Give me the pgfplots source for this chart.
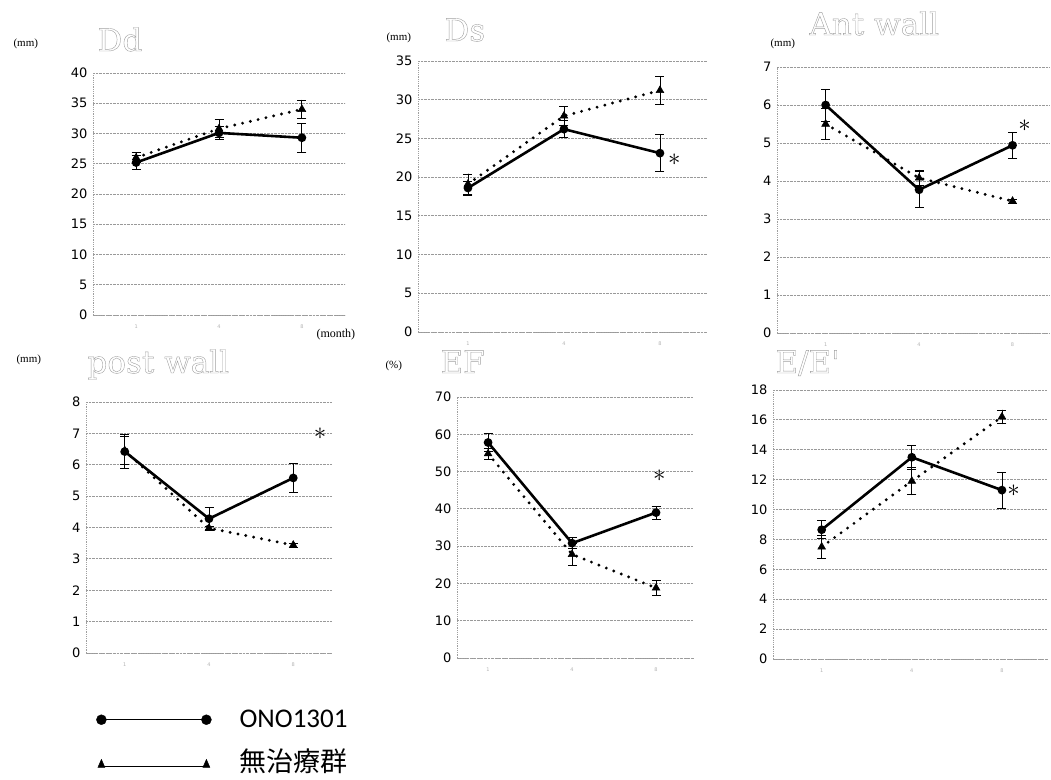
\documentclass[border=0pt]{standalone}
\usepackage{fontspec}
\setmainfont{Liberation Serif}
\newfontfamily\tickfont{DejaVu Sans}
\newfontfamily\titlefont{DejaVu Serif}
\newfontfamily\legfont{Carlito}
\newfontfamily\cjk{Noto Sans CJK JP}
\usepackage{pgfplots}
\pgfplotsset{compat=1.18}
\newcommand\outl[1]{\special{pdf:literal direct 1 Tr 0.4 w}#1\special{pdf:literal direct 0 Tr 0.3985 w}}
\pgfplotsset{
  panel/.style={scale only axis, anchor=south west, ymin=0,
    xtick={0,1,2}, xticklabels={1,4,8},
    axis x line*=bottom, axis y line*=left,
    axis line style={densely dotted, gray!75, line width=0.8pt, -},
    ymajorgrids, major grid style={densely dotted, gray!80, line width=0.8pt},
    major tick length=0pt,
    /pgf/number format/assume math mode=true,
    yticklabel style={font=\tickfont\fontsize{13}{13}\selectfont, xshift=-2pt},
    xticklabel style={font=\tickfont\fontsize{5}{5}\selectfont, text=gray!60, yshift=-6pt},
    clip=false},
  eb/.style={error bars/.cd, y dir=both, y explicit,
    error bar style={solid, line width=0.8pt, black},
    error mark options={rotate=90, mark size=4.5pt, line width=0.8pt, solid, black}},
  ono/.style={black, solid, line width=2.6pt, mark=*, mark size=3pt, mark options={solid}, eb},
  untr/.style={black, line width=3.2pt, dash pattern=on 0pt off 8pt, line cap=round,
    mark=triangle*, mark size=4.5pt, mark options={solid, line width=0.5pt}, eb},
}
\tikzset{
  ttl/.style={anchor=base west, font=\titlefont\fontsize{31}{31}\selectfont, text=gray!75},
  unitlbl/.style={anchor=base west, font=\fontsize{11}{11}\selectfont},
  star/.style={font=\fontsize{28}{28}\selectfont}
}
\begin{document}
\begin{tikzpicture}
\useasboundingbox (0pt,0pt) rectangle (1051pt,-779pt);
% ---------- Dd
\begin{axis}[panel, at={(93pt,-315pt)}, width=252pt, height=242pt,
  xmin=-0.52, xmax=2.52, ymax=40, ytick={0,5,...,40}]
\addplot[untr] coordinates {(0,26.0) +- (0,0.8) (1,30.8) +- (0,1.5) (2,34.0) +- (0,1.5)};
\addplot[ono] coordinates {(0,25.2) +- (0,1.2) (1,30.1) +- (0,1.0) (2,29.3) +- (0,2.4)};
\end{axis}
\node[unitlbl] at (10pt,-46pt) {(mm)};
\node[ttl] at (94pt,-51pt) {\outl{Dd}};
\node[unitlbl, font=\fontsize{12}{12}\selectfont] at (313pt,-337pt) {(month)};
% ---------- Ds
\begin{axis}[panel, at={(418pt,-332pt)}, width=289pt, height=271pt,
  xmin=-0.52, xmax=2.49, ymax=35, ytick={0,5,...,35}]
\addplot[untr] coordinates {(0,19.1) +- (0,1.3) (1,27.9) +- (0,1.2) (2,31.2) +- (0,1.8)};
\addplot[ono] coordinates {(0,18.6) +- (0,0.9) (1,26.2) +- (0,1.1) (2,23.1) +- (0,2.4)};
\node[star] at (axis cs:2.15,22.3) {$\ast$};
\end{axis}
\node[unitlbl] at (383pt,-40pt) {(mm)};
\node[ttl] at (441pt,-41pt) {\outl{Ds}};
% ---------- Ant wall
\begin{axis}[panel, at={(777pt,-333pt)}, width=272pt, height=266pt,
  xmin=-0.52, xmax=2.39, ymax=7, ytick={0,1,...,7}]
\addplot[untr] coordinates {(0,5.5) +- (0,0.4) (1,4.08) +- (0,0.2) (2,3.47) +- (0,0.05)};
\addplot[ono] coordinates {(0,6.0) +- (0,0.42) (1,3.77) +- (0,0.47) (2,4.94) +- (0,0.34)};
\node[star] at (axis cs:2.13,5.45) {$\ast$};
\end{axis}
\node[unitlbl] at (767pt,-46pt) {(mm)};
\node[ttl] at (806pt,-35pt) {\outl{Ant wall}};
% ---------- post wall
\begin{axis}[panel, at={(86pt,-653pt)}, width=246pt, height=251pt,
  xmin=-0.46, xmax=2.46, ymax=8, ytick={0,1,...,8}]
\addplot[untr] coordinates {(0,6.45) +- (0,0.45) (1,3.98) +- (0,0.06) (2,3.44) +- (0,0.06)};
\addplot[ono] coordinates {(0,6.42) +- (0,0.55) (1,4.28) +- (0,0.35) (2,5.58) +- (0,0.45)};
\node[star] at (axis cs:2.32,7.0) {$\ast$};
\end{axis}
\node[unitlbl] at (13pt,-362pt) {(mm)};
\node[ttl] at (84pt,-373pt) {\outl{post wall}};
% ---------- EF
\begin{axis}[panel, at={(457pt,-658pt)}, width=236pt, height=261pt,
  xmin=-0.37, xmax=2.44, ymax=70, ytick={0,10,...,70}]
\addplot[untr] coordinates {(0,54.8) +- (0,1.5) (1,27.8) +- (0,3.0) (2,18.8) +- (0,2.0)};
\addplot[ono] coordinates {(0,57.8) +- (0,2.5) (1,30.8) +- (0,1.5) (2,39.0) +- (0,1.7)};
\node[star] at (axis cs:2.04,48.8) {$\ast$};
\end{axis}
\node[unitlbl] at (382pt,-368pt) {(\%)};
\node[ttl] at (437pt,-373pt) {\outl{EF}};
% ---------- E/E'
\begin{axis}[panel, at={(773pt,-659pt)}, width=274pt, height=269pt,
  xmin=-0.54, xmax=2.5, ymax=18, ytick={0,2,...,18}]
\addplot[untr] coordinates {(0,7.5) +- (0,0.75) (1,11.9) +- (0,0.9) (2,16.2) +- (0,0.45)};
\addplot[ono] coordinates {(0,8.65) +- (0,0.6) (1,13.5) +- (0,0.8) (2,11.3) +- (0,1.2)};
\node[star] at (axis cs:2.13,11.24) {$\ast$};
\end{axis}
\node[ttl] at (772pt,-373pt) {\outl{E/E'}};
% ---------- legend
\begin{axis}[hide axis, scale only axis, anchor=south west, at={(0pt,-779pt)},
  width=1051pt, height=779pt, xmin=0, xmax=1051, ymin=-779, ymax=0,
  legend cell align=left,
  legend style={at={(axis cs:96,-708)}, anchor=north west, draw=none, fill=none,
    font=\legfont\fontsize{27}{30}\selectfont, row sep=16pt, inner sep=0pt,
    /tikz/every odd column/.append style={column sep=26pt}}]
\addlegendimage{legend image code/.code={
  \draw[black, line width=1pt] (0pt,0pt) -- (105pt,0pt);
  \fill[black] (0pt,0pt) circle (5pt);
  \fill[black] (105pt,0pt) circle (5pt);}}
\addlegendentry{ONO1301}
\addlegendimage{legend image code/.code={
  \draw[black, line width=0.8pt] (0pt,-5pt) -- (105pt,-5pt);
  \fill[black] (-3.5pt,-6pt) -- (3.5pt,-6pt) -- (0pt,2pt) -- cycle;
  \fill[black] (101.5pt,-6pt) -- (108.5pt,-6pt) -- (105pt,2pt) -- cycle;}}
\addlegendentry{\cjk 無治療群}
\end{axis}
\end{tikzpicture}
\end{document}
